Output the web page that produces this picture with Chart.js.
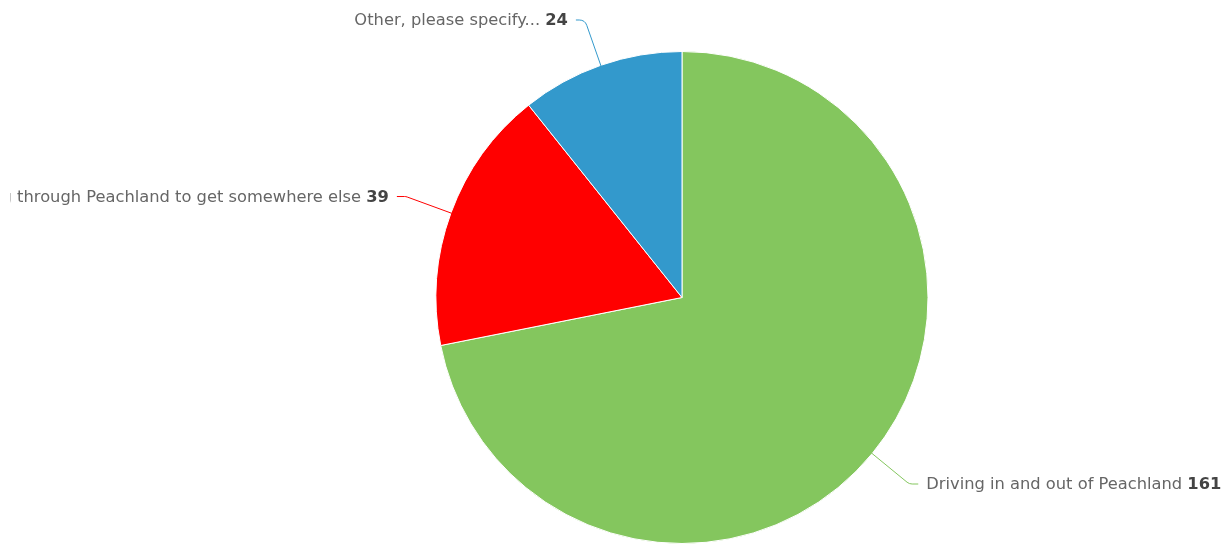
<!DOCTYPE html>
<html><head><meta charset="utf-8">
<script src="https://cdn.jsdelivr.net/npm/chart.js@4"></script>
<style>html,body{margin:0;padding:0;background:#fff;overflow:hidden}#wrap{width:1227px;height:544px;position:relative}</style>
</head><body><div id="wrap"><canvas id="c" width="1227" height="544"></canvas></div>
<script>
const categories = ["Driving in and out of Peachland", "Passing through Peachland to get somewhere else", "Other, please specify..."];
const responses = [161, 39, 24];
const sliceColors = ["#84c65e", "#ff0000", "#3399cc"];

const FONT = '"DejaVu Sans", Verdana, sans-serif';
const FS = '16.3px ';
const labelPlugin = {
  id: 'outLabels',
  afterDatasetsDraw(chart) {
    const ctx = chart.ctx;
    const meta = chart.getDatasetMeta(0);
    ctx.save();
    ctx.beginPath(); ctx.rect(10, 0, chart.width - 10, chart.height); ctx.clip();
    meta.data.forEach((arc, i) => {
      const p = arc.getProps(['x','y','startAngle','endAngle','outerRadius'], true);
      const mid = (p.startAngle + p.endAngle) / 2;
      const cos = Math.cos(mid), sin = Math.sin(mid);
      const edge = {x: p.x + cos * (p.outerRadius - 1), y: p.y + sin * (p.outerRadius - 1)};
      const R = p.outerRadius + 48;
      const bend = {x: p.x + cos * R, y: p.y + sin * R};
      const dir = cos >= 0 ? 1 : -1;
      const end = {x: bend.x + dir * 9, y: bend.y};
      ctx.beginPath();
      ctx.moveTo(edge.x, edge.y);
      ctx.arcTo(bend.x, bend.y, end.x, end.y, 8);
      ctx.lineTo(end.x, end.y);
      ctx.strokeStyle = sliceColors[i];
      ctx.lineWidth = 1;
      ctx.stroke();
      const name = categories[i] + ' ';
      const val = String(responses[i]);
      ctx.textBaseline = 'middle';
      ctx.textAlign = 'left';
      ctx.font = FS + FONT;
      const wn = ctx.measureText(name).width;
      ctx.font = 'bold ' + FS + FONT;
      const wv = ctx.measureText(val).width;
      let x0 = dir > 0 ? end.x + 8 : end.x - 8 - wn - wv;
      const ty = bend.y + 1;
      ctx.font = FS + FONT;
      ctx.fillStyle = '#666666';
      ctx.fillText(name, x0, ty);
      ctx.font = 'bold ' + FS + FONT;
      ctx.fillStyle = '#444444';
      ctx.fillText(val, x0 + wn, ty);
    });
    ctx.restore();
  }
};

new Chart(document.getElementById('c'), {
  type: 'pie',
  data: {
    labels: categories,
    datasets: [{
      data: responses,
      backgroundColor: sliceColors,
      borderColor: '#ffffff',
      borderWidth: 1
    }]
  },
  options: {
    responsive: false,
    animation: false,
    layout: {padding: {left: 137, right: 0, top: 51, bottom: 0}},
    plugins: {legend: {display: false}, tooltip: {enabled: false}}
  },
  plugins: [labelPlugin]
});
</script>
</body></html>
